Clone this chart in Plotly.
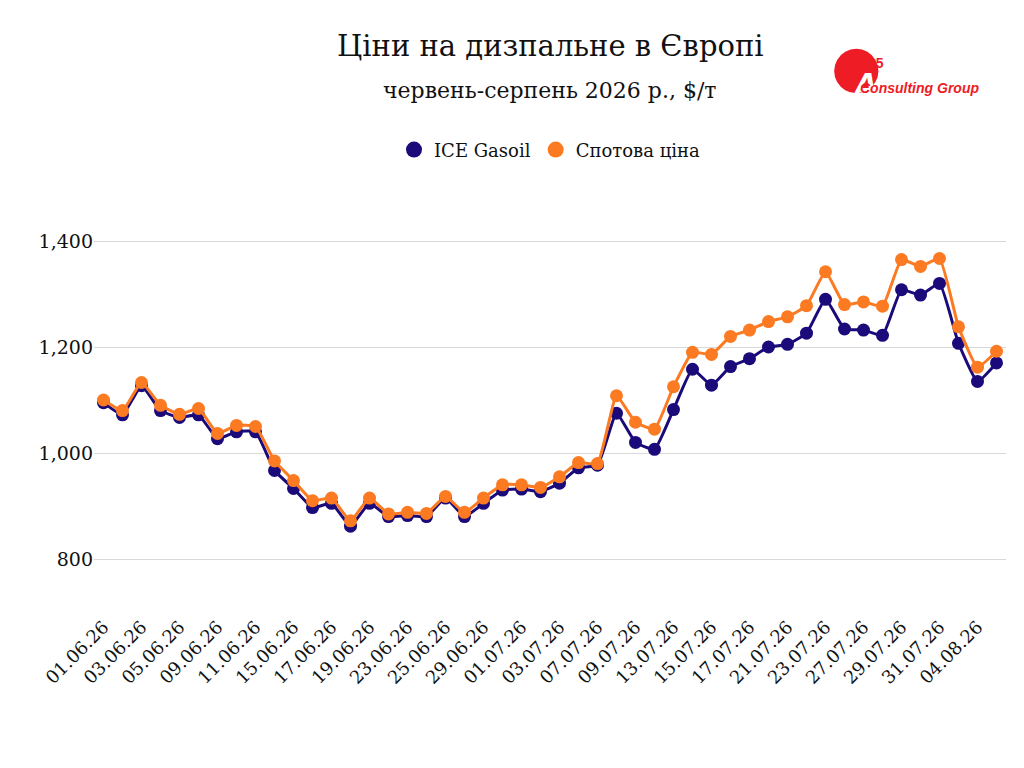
import plotly.graph_objects as go

DATES = [
    "01.06.26", "02.06.26", "03.06.26", "04.06.26", "05.06.26", "08.06.26", "09.06.26", "10.06.26",
    "11.06.26", "12.06.26", "15.06.26", "16.06.26", "17.06.26", "18.06.26", "19.06.26", "22.06.26",
    "23.06.26", "24.06.26", "25.06.26", "26.06.26", "29.06.26", "30.06.26", "01.07.26", "02.07.26",
    "03.07.26", "06.07.26", "07.07.26", "08.07.26", "09.07.26", "10.07.26", "13.07.26", "14.07.26",
    "15.07.26", "16.07.26", "17.07.26", "20.07.26", "21.07.26", "22.07.26", "23.07.26", "24.07.26",
    "27.07.26", "28.07.26", "29.07.26", "30.07.26", "31.07.26", "03.08.26", "04.08.26", "05.08.26",
]
ICE_GASOIL = [
    1095, 1072, 1127, 1080, 1067, 1072, 1027, 1040, 1040, 967, 933, 897, 905, 862, 905, 880,
    882, 880, 915, 880, 905, 930, 932, 927, 943, 972, 977, 1075, 1020, 1007, 1082, 1158,
    1128, 1163, 1178, 1200, 1205, 1226, 1290, 1234, 1232, 1222, 1308, 1298, 1320, 1207, 1135, 1170,
]
SPOT = [
    1100, 1080, 1133, 1090, 1073, 1084, 1037, 1052, 1050, 985, 948, 910, 915, 872, 915, 885,
    888, 886, 918, 888, 915, 940, 940, 935, 955, 982, 980, 1108, 1058, 1045, 1125, 1190,
    1186, 1220, 1232, 1248, 1257, 1278, 1342, 1280, 1285, 1277, 1365, 1352, 1367, 1238, 1162, 1192,
]

FONT = "DejaVu Serif"
SERIES = [("ICE Gasoil", ICE_GASOIL, "#1a0a7a"), ("Спотова ціна", SPOT, "#fb7a22")]

fig = go.Figure()
for name, vals, color in SERIES:
    fig.add_trace(go.Scatter(
        x=DATES, y=vals, name=name, mode="lines+markers", showlegend=False,
        line=dict(color=color, width=3, shape="spline", smoothing=0.4),
        marker=dict(color=color, size=13),
    ))
# legend-only marker entries (dots, no line)
for name, vals, color in SERIES:
    fig.add_trace(go.Scatter(
        x=[None], y=[None], name=name, mode="markers",
        marker=dict(color=color, size=20),
    ))

fig.update_layout(
    width=1024, height=768,
    paper_bgcolor="white", plot_bgcolor="white",
    margin=dict(l=86, r=26, t=180, b=164),
    font=dict(family=FONT, size=16, color="#222"),
    legend=dict(orientation="h", x=0.5, xanchor="center", y=1.09, yanchor="middle",
                font=dict(size=18, color="#111"), itemwidth=30),
)
fig.add_annotation(xref="paper", yref="paper", x=0.5, y=1.335, yanchor="middle", showarrow=False,
                   text="Ціни на дизпальне в Європі", font=dict(size=29, color="#111"))
fig.add_annotation(xref="paper", yref="paper", x=0.5, y=1.23, yanchor="middle", showarrow=False,
                   text="червень-серпень 2026 р., $/т", font=dict(size=22, color="#111"))
fig.update_xaxes(
    type="category", tickangle=-45, tickmode="array",
    tickvals=DATES[::2], showgrid=False, showline=False, ticks="",
    tickfont=dict(size=18, color="#111"), range=[-0.5, len(DATES) - 0.5],
)
fig.update_yaxes(
    range=[700, 1500], tickvals=[800, 1000, 1200, 1400], tickformat=",",
    showgrid=True, gridcolor="#d9d9d9", zeroline=False, ticks="",
    tickfont=dict(size=19, color="#111"),
)

# logo
fig.add_annotation(xref="paper", yref="paper", x=0.866, y=1.287, yanchor="middle", showarrow=False,
                   text="●", font=dict(family="DejaVu Sans", size=58, color="#ee1c25"))
fig.add_annotation(xref="paper", yref="paper", x=0.862, y=1.24, yanchor="middle", showarrow=False,
                   text="<b><i>A</i></b>", font=dict(family="Liberation Sans", size=36, color="white"))
fig.add_annotation(xref="paper", yref="paper", x=0.868, y=1.294, yanchor="middle", showarrow=False,
                   text="<b>95</b>", font=dict(family="Liberation Sans", size=14, color="#ee1c25"))
fig.add_annotation(xref="paper", yref="paper", x=0.838, y=1.236, xanchor="left", yanchor="middle",
                   showarrow=False, text="<b><i>Consulting Group</i></b>",
                   font=dict(family="Liberation Sans", size=14, color="#ee1c25"))

fig.write_html("out.html")
